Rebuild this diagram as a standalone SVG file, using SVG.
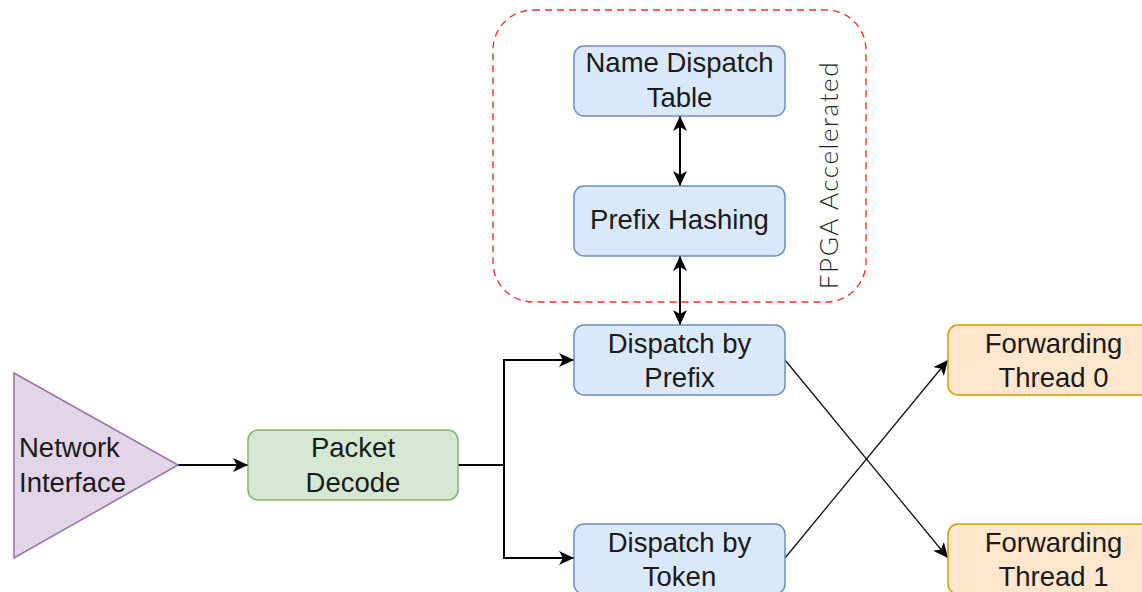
<svg xmlns="http://www.w3.org/2000/svg" width="1142" height="592" viewBox="0 0 1142 592">
  <defs>
    <marker id="arrow" markerUnits="userSpaceOnUse" viewBox="0 0 15 14" markerWidth="15" markerHeight="14" refX="15" refY="7" orient="auto-start-reverse">
      <path d="M0,0 L15,7 L0,14 L4,7 Z" fill="#000"/>
    </marker>
    <style>
      text { font-family: "Liberation Sans", Arial, sans-serif; font-size: 27.5px; fill: #1a1a1a; text-anchor: middle; }
      .blue { fill: #dae8fc; stroke: #6c8ebf; stroke-width: 1.5; }
      .green { fill: #d5e8d4; stroke: #82b366; stroke-width: 1.5; }
      .orange { fill: #ffe6cc; stroke: #d79b00; stroke-width: 1.5; }
      .purple { fill: #e1d5e7; stroke: #9673a6; stroke-width: 1.5; }
      .edge { fill: none; stroke: #000; stroke-width: 2; }
      .thin { fill: none; stroke: #111; stroke-width: 1.3; }
      .label-side { font-family: "Lato", "Liberation Sans", sans-serif; font-weight: 300; font-size: 26px; letter-spacing: 1.6px; fill: #222; }
    </style>
  </defs>
  <rect width="1142" height="592" fill="#ffffff"/>

  <!-- FPGA region -->
  <g id="fpga-region">
    <rect x="493" y="10" width="373" height="292" rx="40" ry="40" fill="none" stroke="#ff3333" stroke-width="1.4" stroke-dasharray="7 5"/>
    <text class="label-side" transform="translate(838,175) rotate(-90)">FPGA Accelerated</text>
  </g>

  <g id="connectors">
    <line class="edge" x1="680" y1="116" x2="680" y2="186" marker-start="url(#arrow)" marker-end="url(#arrow)"/>
    <line class="edge" x1="680" y1="256" x2="680" y2="325" marker-start="url(#arrow)" marker-end="url(#arrow)"/>
    <line class="edge" x1="178" y1="465" x2="248" y2="465" marker-end="url(#arrow)"/>
    <path class="edge" d="M458,465 H504 V360 H574" marker-end="url(#arrow)"/>
    <path class="edge" d="M504,465 V558 H574" marker-end="url(#arrow)"/>
    <line class="thin" x1="785" y1="360" x2="948" y2="558" marker-end="url(#arrow)"/>
    <line class="thin" x1="785" y1="558" x2="948" y2="360" marker-end="url(#arrow)"/>
  </g>

  <g id="name-dispatch-table">
    <rect class="blue" x="574" y="46" width="211" height="70" rx="10"/>
    <text x="679.5" y="72">Name Dispatch</text>
    <text x="679.5" y="107">Table</text>
  </g>

  <g id="prefix-hashing">
    <rect class="blue" x="574" y="186" width="211" height="70" rx="10"/>
    <text x="679.5" y="229">Prefix Hashing</text>
  </g>

  <g id="network-interface">
    <polygon class="purple" points="14,373 178,465 14,558"/>
    <text x="19" y="457" style="text-anchor:start">Network</text>
    <text x="19" y="492" style="text-anchor:start">Interface</text>
  </g>

  <g id="packet-decode">
    <rect class="green" x="248" y="430" width="210" height="70" rx="10"/>
    <text x="353" y="457">Packet</text>
    <text x="353" y="492">Decode</text>
  </g>

  <g id="dispatch-by-prefix">
    <rect class="blue" x="574" y="325" width="211" height="70" rx="10"/>
    <text x="679.5" y="353">Dispatch by</text>
    <text x="679.5" y="387">Prefix</text>
  </g>

  <g id="dispatch-by-token">
    <rect class="blue" x="574" y="524" width="211" height="70" rx="10"/>
    <text x="679.5" y="552">Dispatch by</text>
    <text x="679.5" y="586">Token</text>
  </g>

  <g id="forwarding-thread-0">
    <rect class="orange" x="948" y="325" width="211" height="70" rx="10"/>
    <text x="1053.5" y="353">Forwarding</text>
    <text x="1053.5" y="387">Thread 0</text>
  </g>

  <g id="forwarding-thread-1">
    <rect class="orange" x="948" y="524" width="211" height="70" rx="10"/>
    <text x="1053.5" y="552">Forwarding</text>
    <text x="1053.5" y="586">Thread 1</text>
  </g>
</svg>
